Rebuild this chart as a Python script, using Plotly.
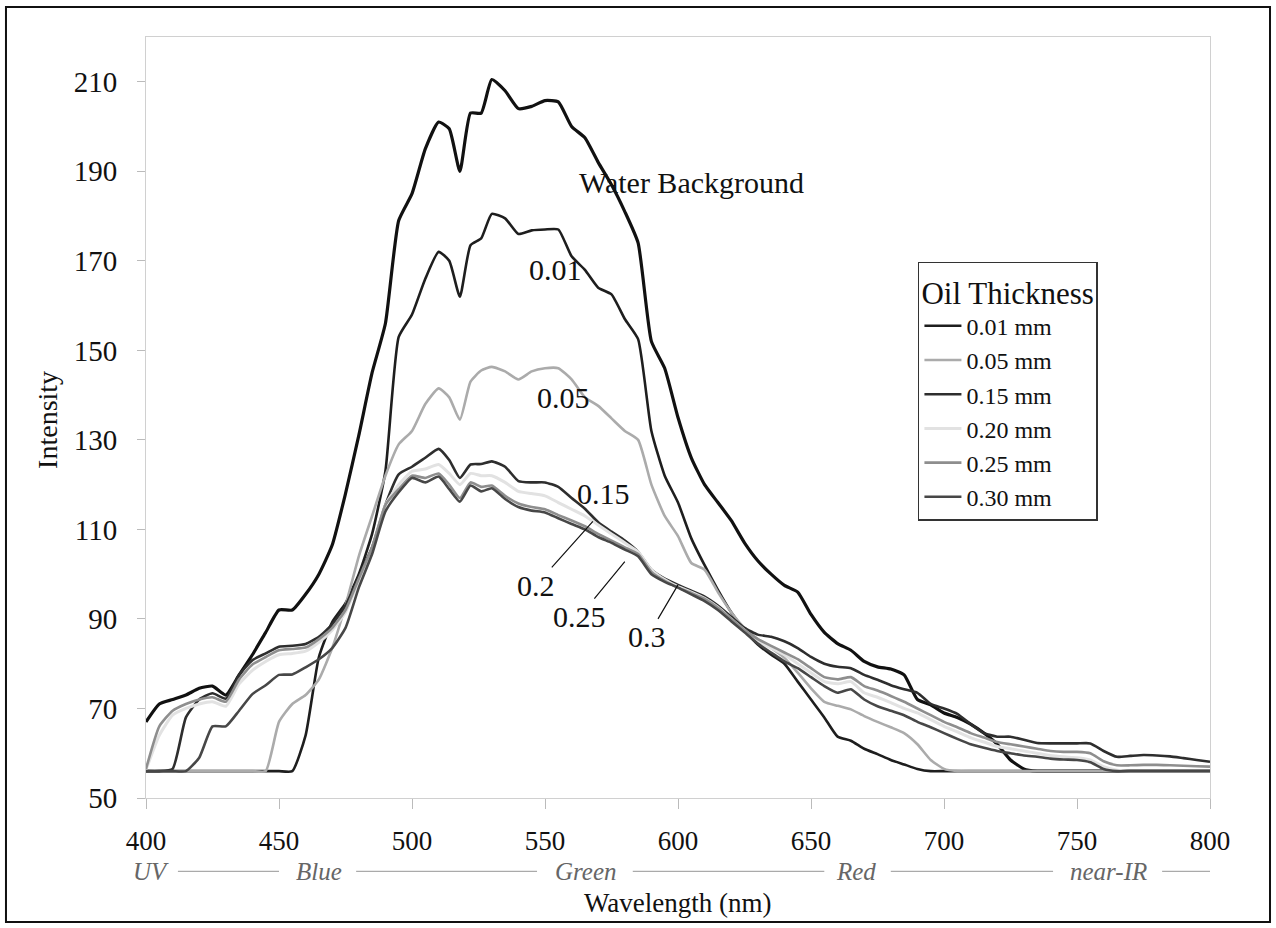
import plotly.graph_objects as go

# ---------------- data ----------------
wavelength = [400, 405, 410, 415, 420, 425, 430, 435, 440, 445, 450, 455, 460, 465, 470, 475,
              480, 485, 490, 495, 500, 505, 510, 514, 518, 522, 526, 530, 535, 540, 545, 550,
              555, 560, 565, 570, 575, 580, 585, 590, 595, 600, 605, 610, 615, 620, 625, 630,
              635, 640, 645, 650, 655, 660, 665, 670, 675, 680, 685, 690, 695, 700, 705, 710,
              715, 720, 725, 730, 735, 740, 745, 750, 755, 760, 765, 770, 775, 780, 785, 790,
              795, 800]

water_background = [67, 71, 72, 73, 74.5, 75, 73, 77.5, 82, 87, 92, 92, 95.5, 100, 106.5, 118,
                    131, 145, 156, 179, 185, 195, 201, 199.5, 190, 203, 203, 210.5, 208, 204, 204.5, 205.8,
                    205.5, 200, 197.5, 192, 187, 181, 174, 152, 146, 135, 126, 120, 116, 112, 107, 103,
                    100, 97.5, 96, 91, 87, 84.5, 83, 80.5, 79.3, 78.8, 77.5, 72, 70.8, 69, 68, 66.5,
                    64.5, 62, 58.5, 56.5, 56, 56, 56, 56, 56, 56, 56, 56, 56, 56, 56, 56,
                    56, 56]

oil_001 = [56, 56, 56, 56, 56, 56, 56, 56, 56, 56, 56, 56, 64, 81.5, 89.3, 93.5,
           100, 109, 123, 153, 158, 166, 172, 170, 162, 173.5, 175, 180.5, 179.5, 176, 176.8, 177,
           177, 171, 168, 164, 162.5, 157, 152.5, 132, 122, 116, 108, 102, 96.5, 91.5, 87.5, 84.3,
           82, 80, 76, 72, 68, 63.7, 62.8, 61, 59.8, 58.5, 57.5, 56.5, 56, 56, 56, 56,
           56, 56, 56, 56, 56, 56, 56, 56, 56, 56, 56, 56, 56, 56, 56, 56,
           56, 56]

oil_005 = [56, 56, 56, 56, 56, 56, 56, 56, 56, 56, 67, 71, 73, 76.5, 83.5, 93,
           104, 113, 122, 129, 132, 138, 141.5, 139.5, 134.5, 143, 145.5, 146.3, 145.3, 143.5, 145.3, 146,
           146, 143.5, 139.5, 137.6, 134.8, 132, 130, 120, 113, 108.5, 102.5, 101, 96, 91.5, 88, 85.5,
           83.5, 81.3, 78, 74.5, 71.5, 70.6, 69.8, 68.3, 67, 65.8, 64.5, 62, 58.5, 56.5, 56, 56,
           56, 56, 56, 56, 56, 56, 56, 56, 56, 56, 56, 56, 56, 56, 56, 56,
           56, 56]

oil_015 = [56, 56, 56.5, 68, 72, 73.4, 72.2, 77.5, 80.8, 82.3, 83.8, 84, 84.4, 86, 88.8, 93,
           99.5, 106, 115.5, 122.3, 124, 126, 128, 125.5, 121.5, 124.5, 124.6, 125.2, 124, 120.8, 120.5, 120.5,
           119.5, 117, 114.6, 111.6, 109.5, 107.5, 105, 101, 99, 97.6, 96.3, 95, 93, 90.5, 88, 86.5,
           86, 85, 83.5, 81.5, 80, 79.3, 79, 77.5, 76.4, 75.2, 74.3, 73.5, 71, 70, 68.8, 66.5,
           64.5, 63.7, 63.7, 63, 62.3, 62.2, 62.2, 62.2, 62.2, 60.5, 59.2, 59.4, 59.6, 59.5, 59.3, 58.9,
           58.5, 58.1]

oil_020 = [56.3, 64, 68.5, 70, 71, 71.5, 70.5, 75.5, 78.5, 80.5, 82, 82.3, 82.8, 84.8, 87.5, 91.5,
           98.5, 105.5, 115.5, 120, 123, 123.5, 124.5, 122.5, 120, 122.5, 122, 122, 120.5, 118.5, 118, 117.5,
           116, 114.5, 113, 111, 109, 107, 105, 101, 98.8, 97.2, 96, 94.6, 92.6, 90, 87.5, 85,
           83.5, 82, 80, 78, 76, 75.5, 76, 73.5, 72.5, 71.3, 70, 69, 67.5, 66, 64.8, 63.5,
           62.5, 61.5, 61, 60.5, 60, 59.5, 59.2, 59, 58.5, 57, 56.2, 56, 56, 56, 56, 56,
           56, 56]

oil_025 = [56.5, 66, 69.5, 71, 72, 72.5, 71.5, 76.5, 79.8, 81.5, 83, 83.3, 83.6, 85.5, 88, 92,
           99, 106, 115.5, 119, 122, 121.5, 122.5, 120, 117, 120.5, 119.5, 119.8, 117.5, 115.8, 115, 114.5,
           113.2, 112, 110.7, 109, 107.5, 106, 104.5, 100.5, 98.5, 97, 95.8, 94.5, 92.5, 90, 87.5, 85.5,
           84, 82.5, 81, 79, 77, 76.5, 77, 75, 74, 72.8, 71.5, 70, 68.5, 67, 65.8, 64.5,
           63.5, 62.5, 62, 61.5, 61, 60.5, 60.3, 60.3, 60, 58.2, 57.3, 57.3, 57.4, 57.4, 57.3, 57.2,
           57.1, 57]

oil_030 = [56, 56, 56, 56, 59, 66, 66, 69.5, 73.2, 75.2, 77.5, 77.6, 79.2, 81, 83.5, 88,
           97, 104.5, 114, 118.3, 121.5, 120.5, 121.8, 119, 116.2, 119.8, 118.5, 119.2, 116.8, 115, 114.2, 113.8,
           112.5, 111.2, 110, 108.3, 107, 105.5, 104, 100, 98.3, 97, 95.5, 94, 92, 89.5, 87, 84.5,
           82.5, 80.5, 79, 77, 75, 73.5, 74.3, 72, 70.5, 69.5, 68.5, 67, 65.8, 64.5, 63.2, 62,
           61.2, 60.5, 60, 59.5, 59.2, 58.8, 58.6, 58.5, 58, 56.5, 56, 56, 56, 56, 56, 56,
           56, 56]

series_names = ["0.01 mm", "0.05 mm", "0.15 mm", "0.20 mm", "0.25 mm", "0.30 mm"]
series_values = [oil_001, oil_005, oil_015, oil_020, oil_025, oil_030]

x_ticks = [400, 450, 500, 550, 600, 650, 700, 750, 800]
y_ticks = [50, 70, 90, 110, 130, 150, 170, 190, 210]

band_names = ["UV", "Blue", "Green", "Red", "near-IR"]
band_centers = [402, 465, 565.5, 667, 762]

# ---------------- styling ----------------
FONT = "Liberation Serif"
series_colors = ["#1e1e1e", "#ababab", "#2e2e2e", "#e2e2e2", "#8e8e8e", "#474747"]
series_widths = [2.6, 2.6, 2.6, 3.0, 2.6, 2.6]
band_line_segments = [(412, 450), (479, 547), (583, 655), (680, 741), (782, 801.5)]
BAND_Y = -0.0965
LINE_SHAPE = dict(shape="spline", smoothing=0.5)

for s in series_values + [water_background]:
    assert len(s) == len(wavelength)

fig = go.Figure()
fig.add_trace(go.Scatter(x=wavelength, y=water_background, mode="lines", name="Water Background",
                         line=dict(color="#111111", width=3.2, **LINE_SHAPE), showlegend=False))
for name, vals, col, w in zip(series_names, series_values, series_colors, series_widths):
    fig.add_trace(go.Scatter(x=wavelength, y=vals, mode="lines", name=name,
                             line=dict(color=col, width=w, **LINE_SHAPE)))

annotations = []
# curve labels
for txt, x, y in [("Water Background", 605, 187.5), ("0.01", 554, 168), ("0.05", 557, 139.5),
                  ("0.15", 572, 118)]:
    annotations.append(dict(x=x, y=y, xref="x", yref="y", text=txt, showarrow=False,
                            font=dict(family=FONT, size=30, color="#111")))
# labels with leader lines
for txt, tx, ty, px, py in [("0.2", 546.5, 97.5, 568, 111.8), ("0.25", 563, 90.5, 580, 102.8),
                            ("0.3", 588.5, 86, 600, 97.6)]:
    annotations.append(dict(x=px, y=py, xref="x", yref="y", ax=tx, ay=ty, axref="x", ayref="y",
                            text=txt, showarrow=True, arrowhead=0, arrowwidth=1.2,
                            arrowcolor="#111", standoff=0,
                            font=dict(family=FONT, size=30, color="#111")))
# spectral band names below the axis
for name, c in zip(band_names, band_centers):
    annotations.append(dict(x=c, y=BAND_Y, xref="x", yref="paper", text=name, showarrow=False,
                            yanchor="middle",
                            font=dict(family=FONT, size=25, color="#666", style="italic")))
annotations.append(dict(x=0.5, y=-0.1375, xref="paper", yref="paper", text="Wavelength (nm)",
                        showarrow=False, yanchor="middle",
                        font=dict(family=FONT, size=27, color="#111")))
annotations.append(dict(x=-0.092, y=0.497, xref="paper", yref="paper", text="Intensity",
                        showarrow=False, textangle=-90, xanchor="center", yanchor="middle",
                        font=dict(family=FONT, size=28, color="#111")))

shapes = []
for a, b in band_line_segments:
    shapes.append(dict(type="line", xref="x", yref="paper", x0=a, x1=b, y0=BAND_Y, y1=BAND_Y,
                       line=dict(color="#aaaaaa", width=1.2)))
shapes.append(dict(type="rect", xref="paper", yref="paper", x0=-0.1316, x1=1.0564,
                   y0=-0.163, y1=1.0394, line=dict(color="#111", width=2)))

fig.update_layout(
    width=1276, height=928,
    margin=dict(l=146, r=66, t=37, b=130),
    paper_bgcolor="white", plot_bgcolor="white",
    font=dict(family=FONT, size=28, color="#111"),
    annotations=annotations, shapes=shapes,
    legend=dict(x=0.7255, y=0.7045, xanchor="left", yanchor="top",
                bordercolor="#333", borderwidth=1.5, bgcolor="white",
                font=dict(family=FONT, size=24, color="#111"),
                title=dict(text="Oil Thickness", font=dict(family=FONT, size=31, color="#111")),
                itemwidth=37, tracegroupgap=0),
    xaxis=dict(range=[400, 800], tickvals=x_ticks, ticks="outside", ticklen=10, tickcolor="#bbb",
               showline=True, linecolor="#d0d0d0", mirror=True, showgrid=False, zeroline=False,
               tickfont=dict(family=FONT, size=27, color="#111"), ticklabelstandoff=9),
    yaxis=dict(range=[50, 220], tickvals=y_ticks, ticks="outside", ticklen=8, tickcolor="#bbb",
               showline=True, linecolor="#d0d0d0", mirror=True, showgrid=False, zeroline=False,
               tickfont=dict(family=FONT, size=29, color="#111"), ticklabelstandoff=14),
)

fig.write_html("out.html")
